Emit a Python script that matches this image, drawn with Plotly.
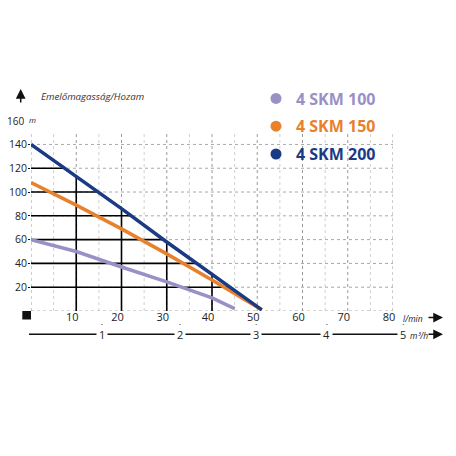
import numpy as np
import plotly.graph_objects as go

# flow in l/min, head in m
flow_100 = [0, 10, 20, 30, 40, 45]
head_100 = [60, 50, 37, 24.5, 11, 2]
flow_150 = [0, 10, 20, 30, 40, 51]
head_150 = [108, 89, 69, 48, 26, 1]
flow_200 = [0, 10, 20, 30, 40, 51]
head_200 = [140, 113, 86, 58, 31, 1]

names = ["4 SKM 100", "4 SKM 150", "4 SKM 200"]
colors = ["#9a90c6", "#e8812c", "#1b3a84"]

y_ticks = [20, 40, 60, 80, 100, 120, 140]
x_ticks = [10, 20, 30, 40, 50, 60, 70, 80]
m3h_labels = ["1", "2", "3", "4", "5"]
m3h_pos = [15.7, 32.9, 49.8, 65.4, 82.3]  # where each m3/h mark sits on the l/min scale

# page has an 8px body margin, so the figure is a bit smaller than the window
OFF = 8
W, H = 448, 448
ML, MR, MT, MB = 23, 63, 71, 145
pw = W - ML - MR
ph = H - MT - MB
YTOP = 195


def fx(p):
    # window pixel column -> paper x
    return (p - OFF - ML) / pw


def fy(p):
    # window pixel row -> paper y
    return (H - MB - (p - OFF)) / ph


def dx(v):
    # l/min value -> paper x
    return v / 80.0


fig = go.Figure()

for xs, ys, c in zip([flow_100, flow_150, flow_200], [head_100, head_150, head_200], colors):
    fig.add_trace(go.Scatter(x=xs, y=ys, mode="lines", line=dict(color=c, width=3.5),
                             showlegend=False, hoverinfo="skip"))
for nm, c in zip(names, colors):
    fig.add_trace(go.Scatter(x=[None], y=[None], mode="markers", legendgroup=nm,
                             marker=dict(color=c, size=11),
                             name='<span style="color:%s">%s</span>' % (c, nm)))

shapes = []
# dotted grid
for gx in range(0, 81, 5):
    shapes.append(dict(type="line", xref="x", yref="y", x0=gx, x1=gx, y0=0, y1=151, layer="below",
                       line=dict(color="#9a9a9a" if gx % 10 == 0 else "#d0d0d0", width=1, dash="dot")))
for gy in [0] + y_ticks:
    shapes.append(dict(type="line", xref="x", yref="y", x0=0, x1=80, y0=gy, y1=gy, layer="below",
                       line=dict(color="#a8a8a8", width=1, dash="dot")))

# black reading lines under the 4 SKM 200 curve
for gy in [20, 40, 60, 80, 100, 120]:
    xe = np.interp(gy, head_200[::-1], flow_200[::-1])
    shapes.append(dict(type="line", xref="x", yref="y", x0=0, x1=xe, y0=gy, y1=gy, layer="below",
                       line=dict(color="black", width=1.6)))
for gx in [10, 20, 30, 40]:
    ye = np.interp(gx, flow_200, head_200)
    shapes.append(dict(type="line", xref="x", yref="y", x0=gx, x1=gx, y0=0, y1=ye, layer="below",
                       line=dict(color="black", width=1.6)))

# origin square
shapes.append(dict(type="rect", xref="paper", yref="paper", x0=fx(22.3), x1=fx(31), y0=fy(311),
                   y1=fy(319.5), fillcolor="#111", line=dict(width=0)))

# m3/h scale
shapes.append(dict(type="line", xref="paper", yref="paper", x0=fx(29), x1=fx(400), y0=fy(334.3),
                   y1=fy(334.3), line=dict(color="#111", width=1.6)))
for mx in m3h_pos:
    shapes.append(dict(type="line", xref="paper", yref="paper", x0=dx(mx), x1=dx(mx), y0=fy(324),
                       y1=fy(328), line=dict(color="#111", width=1.6)))

ann = []
for lab, mx in zip(m3h_labels, m3h_pos):
    ann.append(dict(x=dx(mx), y=fy(334.3), xref="paper", yref="paper", text=lab, showarrow=False,
                    xanchor="center", yanchor="middle",
                    bgcolor="white", borderpad=2, font=dict(size=11, color="#222")))

ann.append(dict(x=0, y=160, xref="x", yref="y", text="160", xanchor="right", yanchor="middle",
                xshift=-5, showarrow=False, font=dict(size=10, color="#222")))
ann.append(dict(x=0, y=160, xref="x", yref="y", text="<i>m</i>", xanchor="left", yanchor="middle",
                xshift=-4, yshift=1, showarrow=False, font=dict(size=8, color="#222")))
ann.append(dict(x=fx(39), y=fy(96.7), xref="paper", yref="paper", text="<i>Emelőmagasság/Hozam</i>",
                xanchor="left", yanchor="middle", showarrow=False, font=dict(size=9.7, color="#333")))
ann.append(dict(x=fx(401), y=fy(318.5), xref="paper", yref="paper", text="<i>l/min</i>",
                xanchor="left", yanchor="middle", showarrow=False, font=dict(size=8.5, color="#222")))
ann.append(dict(x=fx(408), y=fy(335.5), xref="paper", yref="paper", text="<i>m³/h</i>",
                xanchor="left", yanchor="middle", showarrow=False, font=dict(size=8.5, color="#222")))

# arrows
for ty in [317.5, 334.3]:
    ann.append(dict(x=fx(443), y=fy(ty), xref="paper", yref="paper", ax=-16, ay=0,
                    text="", showarrow=True, arrowhead=2, arrowsize=1.3, arrowwidth=1.5, arrowcolor="#111"))
ann.append(dict(x=fx(20.7), y=fy(89), xref="paper", yref="paper", ax=0, ay=15,
                text="", showarrow=True, arrowhead=2, arrowsize=1.3, arrowwidth=1.5, arrowcolor="#111"))

fig.update_layout(
    width=W, height=H,
    margin=dict(l=ML, r=MR, t=MT, b=MB, autoexpand=False),
    plot_bgcolor="white", paper_bgcolor="white",
    font=dict(family="Open Sans", size=11, color="#222"),
    shapes=shapes, annotations=ann,
    legend=dict(x=fx(256), y=fy(81.5), xanchor="left", yanchor="top",
                font=dict(size=16, family="Open Sans", weight="bold"),
                tracegroupgap=4, bgcolor="rgba(0,0,0,0)", itemwidth=30),
)
fig.update_xaxes(range=[0, 80], tickvals=x_ticks, showgrid=False, zeroline=False, showline=False,
                 ticks="", ticklabelshift=-4, ticklabelstandoff=-2, automargin=False)
fig.update_yaxes(range=[0, YTOP], tickvals=y_ticks, showgrid=False, zeroline=False, showline=False,
                 ticks="outside", ticklen=2, tickcolor="#111", tickwidth=1.2, automargin=False,
                 ticklabelstandoff=-1, tickfont=dict(size=10.5))

fig.write_html("out.html")
